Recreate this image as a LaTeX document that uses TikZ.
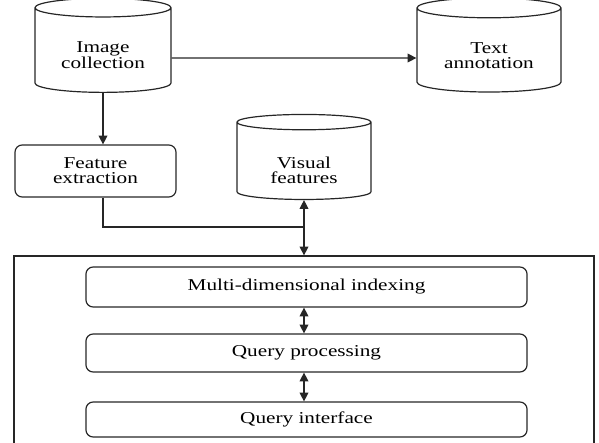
\documentclass[tikz,border=0pt]{standalone}
\usepackage{fontspec}
\setmainfont[FakeStretch=1.28]{Liberation Serif}
\usetikzlibrary{arrows.meta, positioning, shapes.geometric}

\begin{document}
\begin{tikzpicture}
  [x=0.025cm, y=-0.025cm, line width=0.85pt, draw=black!85,
   >={Triangle[length=0.22cm, width=0.22cm]},
   every node/.style={font=\fontsize{11.8}{10.7}\selectfont, text=black},
   store/.style={cylinder, shape border rotate=90, draw, aspect=0.2,
                 align=center, minimum width=3.4cm, minimum height=2.35cm},
   task/.style={rectangle, rounded corners=0.18cm, draw, align=center},
   layer/.style={task, minimum width=11.025cm}]
  \path[use as bounding box, clip] (0,0) rectangle (599,442);
  \node (imgcol) at (103,52) [store] {\rule{0pt}{0.44cm}Image\\collection};
  \node (txtann) at (489,52) [store, minimum width=3.6cm] {\rule{0pt}{0.44cm}Text\\annotation};
  \node (visfeat) at (304,162.5) [store, minimum width=3.35cm, minimum height=2.125cm]
    {\rule{0pt}{0.66cm}Visual\\features};
  \node (featext) at (95.5,171) [task, minimum width=4.025cm, minimum height=1.3cm] {Feature\\extraction};
  \node (engine) at (304,363) [rectangle, draw, minimum width=14.5cm, minimum height=5.35cm] {};
  \node (mdi) at (306.5,287) [layer, minimum height=1cm] {Multi-dimensional indexing};
  \node (qp) at (306.5,353) [layer, minimum height=0.95cm] {Query processing};
  \node (qi) at (306.5,419.5) [layer, minimum height=0.875cm] {Query interface};
  \coordinate (join) at (304,227);
  \draw [->] ([yshift=-0.15cm]imgcol.east) -- ([yshift=-0.15cm]txtann.west);
  \draw [->] (imgcol.south) -- (imgcol.south |- featext.north);
  \draw (imgcol.south |- featext.south) |- (join);
  \draw [<->] (visfeat.south) -- (visfeat.south |- engine.north);
  \draw [<->] (visfeat.south |- mdi.south) -- (visfeat.south |- qp.north);
  \draw [<->] (visfeat.south |- qp.south) -- (visfeat.south |- qi.north);
\end{tikzpicture}
\end{document}
